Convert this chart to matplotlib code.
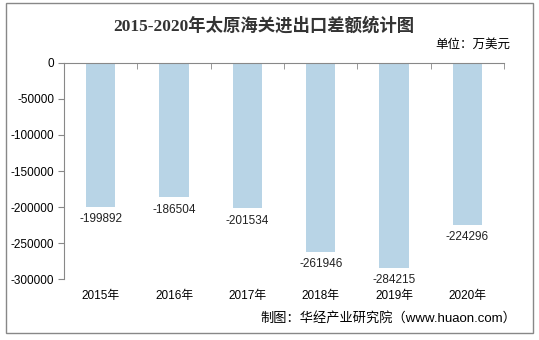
import matplotlib.pyplot as plt
from matplotlib.patches import Rectangle
import numpy as np

plt.rcParams['font.family'] = ['Liberation Sans', 'Noto Sans CJK SC']

years = ['2015年', '2016年', '2017年', '2018年', '2019年', '2020年']
balance = [-199892, -186504, -201534, -261946, -284215, -224296]
yticks = [0, -50000, -100000, -150000, -200000, -250000, -300000]

fig = plt.figure(figsize=(5.39, 3.40), dpi=100)
ax = fig.add_axes([0.119, 0.179, 0.816, 0.636])

x = np.arange(len(years))
ax.bar(x, balance, width=0.4, color='#b8d4e6')
for xi, v in zip(x, balance):
    ax.text(xi, v - 9000, str(v), ha='center', va='top', fontsize=8.5, color='#222222')

ax.set_xlim(-0.5, len(years) - 0.5)
ax.set_ylim(-300000, 0)
ax.set_yticks(yticks)
ax.set_yticklabels([str(t) for t in yticks], fontsize=8.5)
ax.set_xticks(x)
ax.set_xticklabels(years, fontsize=8.5)
ax.tick_params(axis='x', length=0, pad=8)
ax.tick_params(axis='y', length=4, color='#888888', pad=3)

# category boundary ticks hanging from the zero line
ax.set_xticks(np.arange(-0.5, len(years)), minor=True)
ax.tick_params(axis='x', which='minor', top=True, bottom=False, direction='in',
               length=4, color='#888888')

for s in ['right', 'bottom']:
    ax.spines[s].set_visible(False)
ax.spines['left'].set_color('#888888')
ax.spines['top'].set_color('#888888')

fig.text(0.49, 0.925, '2015-2020年太原海关进出口差额统计图', ha='center', va='center',
         fontsize=12.5, fontweight='bold', color='#333333',
         family=['Liberation Serif', 'Noto Sans CJK SC'])
fig.text(0.947, 0.868, '单位：万美元', ha='right', va='center', fontsize=9)
fig.text(0.957, 0.065, '制图：华经产业研究院（www.huaon.com）', ha='right', va='center',
         fontsize=9.5)

fig.patches.append(Rectangle((0.011, 0.02), 0.978, 0.97, transform=fig.transFigure,
                             fill=False, edgecolor='#888888', linewidth=1))

fig.savefig('out.png', dpi=100)
